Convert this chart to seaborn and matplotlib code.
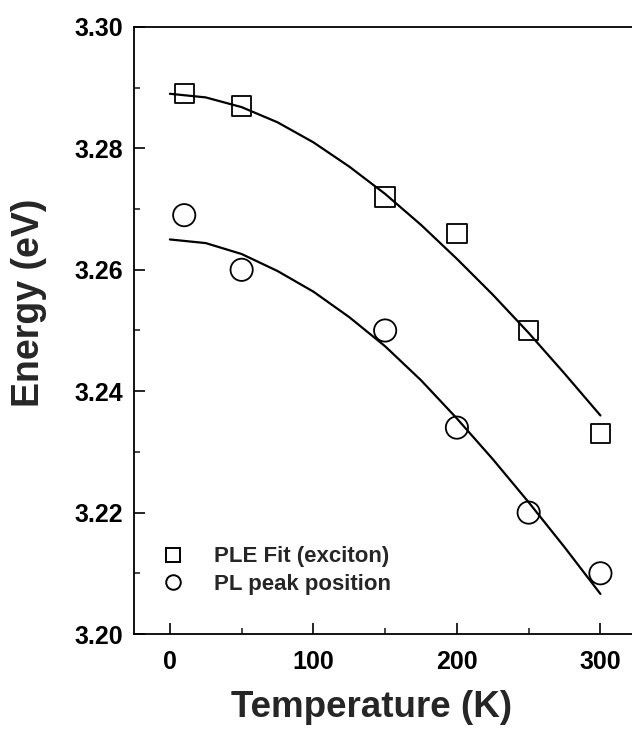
import matplotlib
matplotlib.use("Agg")
import matplotlib.pyplot as plt
import seaborn as sns
import pandas as pd
from matplotlib.lines import Line2D
from matplotlib.ticker import MultipleLocator

# data points
temp_pts = [10, 50, 150, 200, 250, 300]
ple_exciton = [3.289, 3.287, 3.272, 3.266, 3.250, 3.233]
pl_peak = [3.269, 3.260, 3.250, 3.234, 3.220, 3.210]

# fitted curves
temp_fit = [0, 25, 50, 75, 100, 125, 150, 175, 200, 225, 250, 275, 300]
ple_fit = [3.2890, 3.2884, 3.2868, 3.2843, 3.2810, 3.2770, 3.2725, 3.2674,
           3.2618, 3.2559, 3.2496, 3.2429, 3.2360]
pl_fit = [3.2650, 3.2644, 3.2626, 3.2598, 3.2564, 3.2522, 3.2474, 3.2418,
          3.2355, 3.2288, 3.2217, 3.2143, 3.2066]

legend_labels = ["PLE Fit (exciton)", "PL peak position"]

sns.set_theme(style="ticks")
plt.rcParams['font.family'] = ['Liberation Sans', 'DejaVu Sans']
plt.rcParams['font.weight'] = 'bold'

fig = plt.figure(figsize=(6.32, 7.29), dpi=100)
ax = fig.add_axes([134/632, 95/729, 1 - 134/632, 607/729])

df_pts = pd.DataFrame({"T": temp_pts, "ple": ple_exciton, "pl": pl_peak})
df_fit = pd.DataFrame({"T": temp_fit, "ple": ple_fit, "pl": pl_fit})

sns.lineplot(data=df_fit, x="T", y="ple", ax=ax, color="black", lw=1.6, zorder=2)
sns.lineplot(data=df_fit, x="T", y="pl", ax=ax, color="black", lw=1.6, zorder=2)
sns.scatterplot(data=df_pts, x="T", y="ple", ax=ax, marker="s", s=14**2,
                facecolor="none", edgecolor="black", linewidth=1.3, zorder=3)
sns.scatterplot(data=df_pts, x="T", y="pl", ax=ax, marker="o", s=16**2,
                facecolor="none", edgecolor="black", linewidth=1.3, zorder=3)

ax.set_xlim(-25, 322)
ax.set_ylim(3.20, 3.30)
ax.xaxis.set_major_locator(MultipleLocator(100))
ax.xaxis.set_minor_locator(MultipleLocator(50))
ax.yaxis.set_major_locator(MultipleLocator(0.02))
ax.yaxis.set_minor_locator(MultipleLocator(0.01))
ax.yaxis.set_major_formatter(matplotlib.ticker.FormatStrFormatter('%.2f'))

ax.tick_params(which='major', direction='in', length=8, width=1.2, labelsize=18,
               pad=8, colors='black')
ax.tick_params(which='minor', direction='in', length=4, width=1.2)
ax.tick_params(axis='x', which='major', pad=11.5)
for lab in ax.get_xticklabels() + ax.get_yticklabels():
    lab.set_fontweight('bold')

for s in ['left', 'bottom', 'top']:
    ax.spines[s].set_linewidth(1.3)
    ax.spines[s].set_color('black')
ax.spines['right'].set_visible(False)

ax.set_xlabel("Temperature (K)", fontsize=26.5, fontweight='bold')
ax.set_ylabel("Energy (eV)", fontsize=27, fontweight='bold')
ax.xaxis.set_label_coords(0.478, -0.092)
ax.yaxis.set_label_coords(-0.175, 0.545)

handles = [Line2D([], [], marker='s', ls='none', markersize=9.5, markerfacecolor='none',
                  markeredgecolor='black', markeredgewidth=1.4),
           Line2D([], [], marker='o', ls='none', markersize=10.5, markerfacecolor='none',
                  markeredgecolor='black', markeredgewidth=1.4)]
leg = ax.legend(handles, legend_labels, loc='lower left', bbox_to_anchor=(0.056, 0.064),
                frameon=False, handlelength=1.0, handletextpad=1.36,
                labelspacing=0.3, borderpad=0, borderaxespad=0,
                prop={'weight': 'bold', 'size': 16})

fig.savefig("out.png", dpi=100)
